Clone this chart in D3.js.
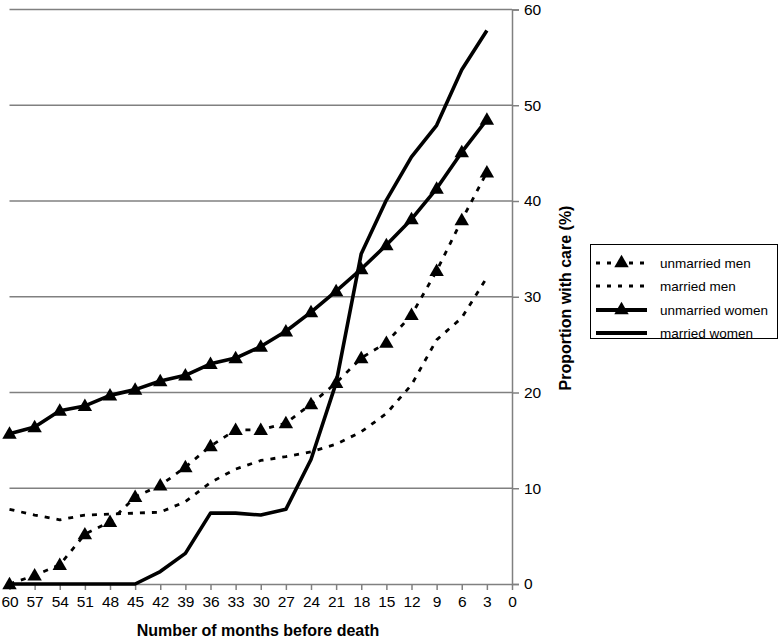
<!DOCTYPE html>
<html><head><meta charset="utf-8">
<script src="https://cdn.jsdelivr.net/npm/d3@7"></script>
<style>body{margin:0;background:#fff}svg{display:block}text{font-family:"Liberation Sans",Arial,sans-serif}</style>
</head><body>
<script>
const months = [60,57,54,51,48,45,42,39,36,33,30,27,24,21,18,15,12,9,6,3];
const tickMonths = [60,57,54,51,48,45,42,39,36,33,30,27,24,21,18,15,12,9,6,3,0];
const yTicks = [0,10,20,30,40,50,60];
const unmarriedMen   = [0.0,0.9,2.0,5.2,6.5,9.1,10.3,12.2,14.4,16.1,16.1,16.8,18.8,21.0,23.6,25.2,28.1,32.7,38.0,43.0];
const marriedMen     = [7.8,7.2,6.7,7.2,7.3,7.4,7.5,8.6,10.6,12.0,12.9,13.3,13.8,14.6,15.9,17.8,20.8,25.5,27.8,32.0];
const unmarriedWomen = [15.7,16.4,18.1,18.6,19.7,20.3,21.2,21.8,23.0,23.6,24.8,26.4,28.4,30.6,32.9,35.4,38.1,41.3,45.1,48.5];
const marriedWomen   = [0,0,0,0,0,0,1.3,3.2,7.4,7.4,7.2,7.8,13.0,21.0,34.5,40.1,44.6,47.9,53.7,57.8];
const seriesNames = ["unmarried men","married men","unmarried women","married women"];

const W=780,H=643;
const svg=d3.select("body").append("svg").attr("width",W).attr("height",H);
const x=d3.scaleLinear().domain([60,0]).range([9.5,512]);
const y=d3.scaleLinear().domain([0,60]).range([584,9.5]);

// gridlines
svg.append("g").selectAll("line").data(yTicks.filter(d=>d>0)).join("line")
  .attr("x1",x(60)).attr("x2",x(0)).attr("y1",d=>y(d)).attr("y2",d=>y(d))
  .attr("stroke","#808080").attr("stroke-width",1.5);

// right y axis
const ya=svg.append("g").attr("transform",`translate(${x(0)},0)`).call(d3.axisRight(y).tickValues(yTicks).tickSize(7).tickPadding(5));
ya.select(".domain").attr("stroke","#808080").attr("stroke-width",1.5);
ya.selectAll(".tick line").attr("stroke","#808080").attr("stroke-width",1.5);
ya.selectAll(".tick text").attr("font-size",15.5).attr("fill","#000").attr("font-family","Liberation Sans, Arial, sans-serif");

// bottom axis
const xa=svg.append("g").attr("transform",`translate(0,${y(0)})`).call(d3.axisBottom(x).tickValues(tickMonths).tickFormat(d3.format("d")).tickSize(6).tickPadding(6).tickSizeOuter(0));
xa.select(".domain").attr("stroke","#808080").attr("stroke-width",1.5);
xa.selectAll(".tick line").attr("stroke","#808080").attr("stroke-width",1.5);
xa.selectAll(".tick text").attr("font-size",15.5).attr("fill","#000").attr("font-family","Liberation Sans, Arial, sans-serif");

const line=d3.line().x((d,i)=>x(months[i])).y(d=>y(d));
const styles=[
  {data:unmarriedMen,dash:"5,7",w:2.8,mark:true},
  {data:marriedMen,dash:"5,7",w:2.8,mark:false},
  {data:unmarriedWomen,dash:null,w:3.6,mark:true},
  {data:marriedWomen,dash:null,w:3.6,mark:false}
];
const tri=d3.symbol().type(d3.symbolTriangle).size(90);
styles.forEach(s=>{
  svg.append("path").attr("d",line(s.data)).attr("fill","none").attr("stroke","#000")
    .attr("stroke-width",s.w).attr("stroke-dasharray",s.dash).attr("stroke-linejoin","round");
  if(s.mark){
    svg.append("g").selectAll("path").data(s.data).join("path")
      .attr("d",tri).attr("transform",(d,i)=>`translate(${x(months[i])},${y(d)+1})`).attr("fill","#000");
  }
});

// axis titles
svg.append("text").attr("x",258).attr("y",636).attr("text-anchor","middle")
  .attr("font-size",16).attr("font-weight","bold").text("Number of months before death");
svg.append("text").attr("transform","translate(571,298) rotate(-90)").attr("text-anchor","middle")
  .attr("font-size",16).attr("font-weight","bold").text("Proportion with care (%)");

// legend
const lg=svg.append("g");
lg.append("rect").attr("x",590.5).attr("y",244.5).attr("width",187).attr("height",94)
  .attr("fill","#fff").attr("stroke","#000").attr("stroke-width",1);
const ly=[263,286,310,333];
styles.forEach((s,i)=>{
  lg.append("line").attr("x1",596).attr("x2",647).attr("y1",ly[i]).attr("y2",ly[i])
    .attr("stroke","#000").attr("stroke-width",s.w+0.4).attr("stroke-dasharray",s.dash?"4,7":null);
  if(s.mark) lg.append("path").attr("d",tri).attr("transform",`translate(621.5,${ly[i]})`);
  lg.append("text").attr("x",660).attr("y",ly[i]+5).attr("font-size",13.5).text(seriesNames[i]);
});
</script>
</body></html>
